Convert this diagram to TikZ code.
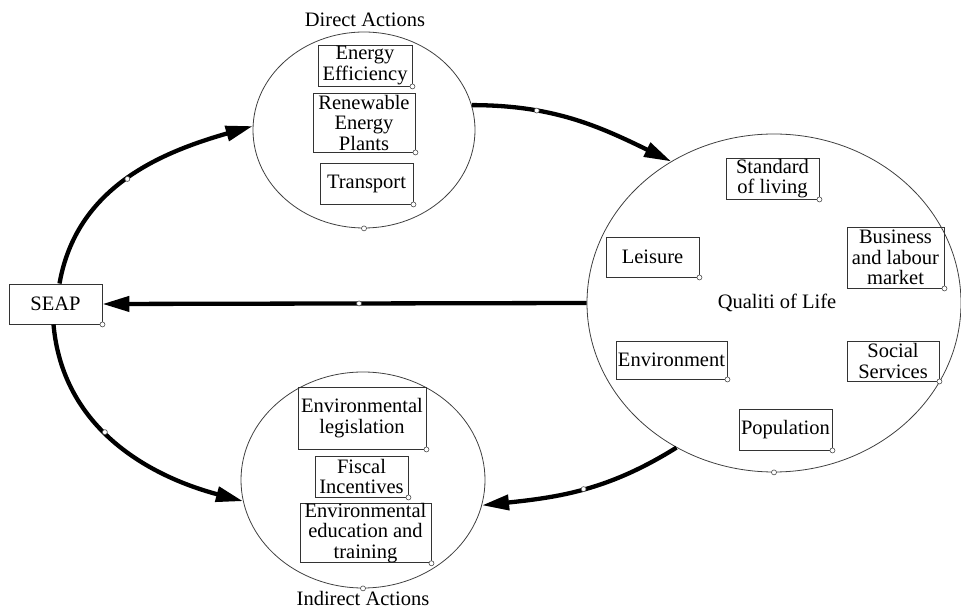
\documentclass[tikz,border=0pt]{standalone}
\usepackage{fontspec}
\setmainfont{Liberation Serif}
\usetikzlibrary{shapes.geometric,arrows.meta}
\begin{document}
\begin{tikzpicture}[x=1pt,y=1pt,
  every node/.style={font=\fontsize{20.5}{20.5}\selectfont},
  bx/.style={draw=black!80,line width=0.9pt,rectangle,inner sep=0pt,align=center},
  ell/.style={draw=black!75,line width=0.8pt,ellipse,inner sep=0pt},
  conn/.style={line width=4.3pt,-{Triangle[length=27pt,width=15pt]}},
  handle/.style={circle,draw=black!70,fill=white,line width=0.6pt,inner sep=0pt,minimum size=5pt}]
\useasboundingbox (0,0) rectangle (961,613);
% ellipses
\node[ell,minimum width=222,minimum height=196] (da) at (364,483) {};
\node[ell,minimum width=374,minimum height=338] (ql) at (774,310) {};
\node[ell,minimum width=244,minimum height=216] (ia) at (363,133) {};
\node (dalab) at (365,593) {Direct Actions};
\node (ialab) at (363,15) {Indirect Actions};
\node (qltxt) at (777,310) {Qualiti of Life};
% boxes
\node[bx,minimum width=94,minimum height=41] (ee) at (365,547.5) {Energy\\Efficiency};
\node[bx,minimum width=102,minimum height=59] (rep) at (364,490.5) {Renewable\\Energy\\Plants};
\node[bx,minimum width=93,minimum height=41] (tr) at (366.5,429.5) {Transport};
\node[bx,minimum width=93,minimum height=41] (sl) at (772.5,434.5) {Standard\\of living};
\node[bx,minimum width=97,minimum height=61] (bl) at (895.5,355.5) {Business\\and labour\\market};
\node[bx,minimum width=93,minimum height=40] (le) at (652.5,356) {Leisure};
\node[bx,minimum width=111,minimum height=38] (en) at (671.5,253) {Environment};
\node[bx,minimum width=92,minimum height=40] (ss) at (893,252) {Social\\Services};
\node[bx,minimum width=93,minimum height=41] (po) at (785.5,183.5) {Population};
\node[bx,minimum width=128,minimum height=62] (el) at (362,195) {Environmental\\legislation};
\node[bx,minimum width=93,minimum height=41] (fi) at (361.5,136.5) {Fiscal\\Incentives};
\node[bx,minimum width=131,minimum height=58] (eet) at (365.5,80) {Environmental\\education and\\training};
\node[bx,minimum width=93,minimum height=40] (seap) at (55.5,309) {SEAP};
% connectors
\draw[conn] ([xshift=4]seap.north) to[out=80,in=196] node[handle,pos=0.5]{} (da.178);
\draw[conn] (da.13) to[out=0,in=154] node[handle,pos=0.3]{} (ql.126);
\draw[conn] (ql.west) -- node[handle,pos=0.47]{} (seap.east);
\draw[conn] (ql.-124) to[out=212,in=6] node[handle,pos=0.5]{} (ia.-12);
\draw[conn] ([xshift=-2]seap.south) to[out=-85,in=165] node[handle,pos=0.45]{} (ia.190);
% handles
\foreach \n in {ee,rep,tr,sl,bl,le,en,ss,po,el,fi,eet,seap} {\node[handle] at (\n.south east) {};}
\foreach \n in {da,ql,ia} {\node[handle] at (\n.south) {};}
\end{tikzpicture}
\end{document}
